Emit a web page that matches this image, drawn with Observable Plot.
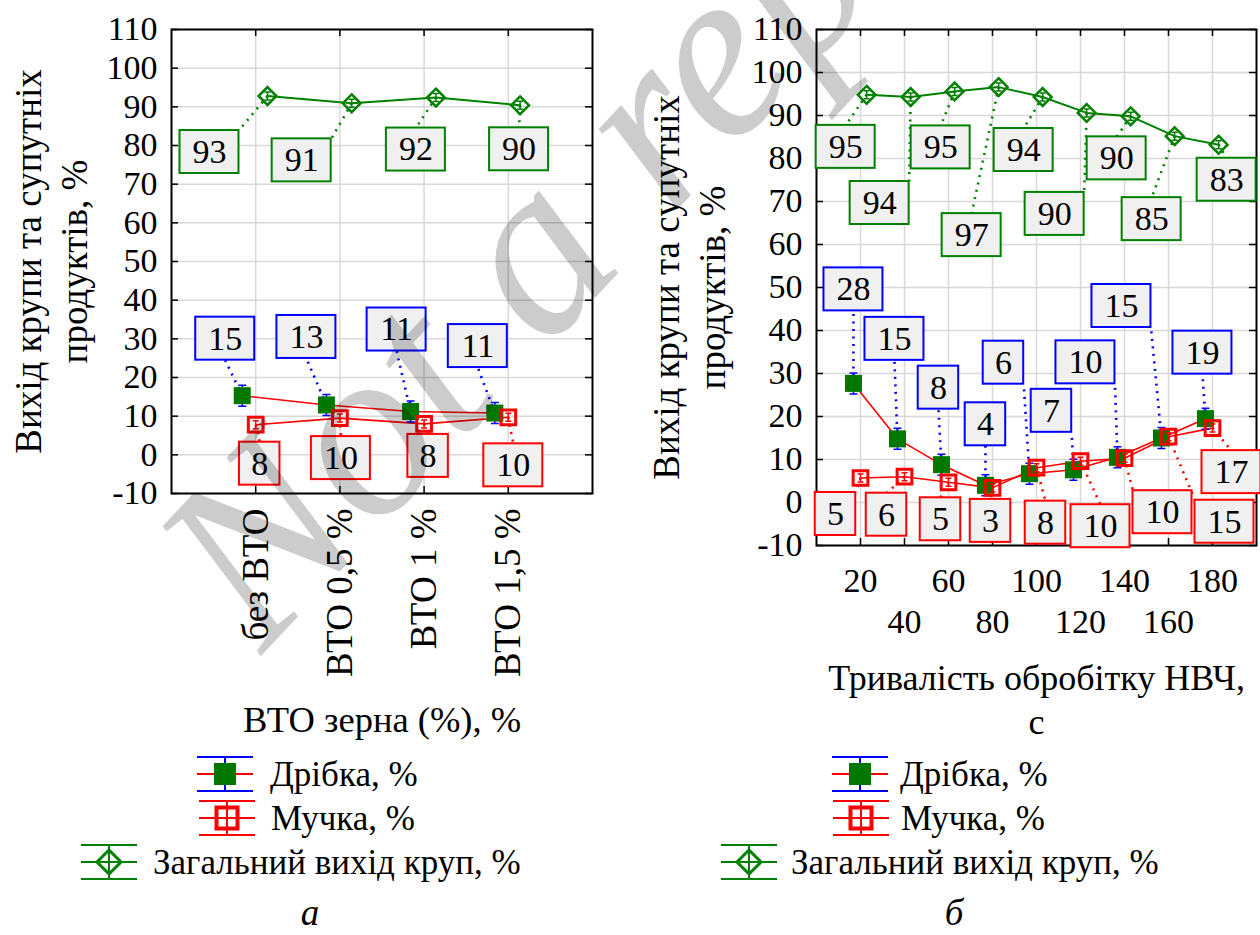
<!DOCTYPE html>
<html>
<head>
<meta charset="utf-8">
<script src="https://cdn.jsdelivr.net/npm/d3@7"></script>
<script src="https://cdn.jsdelivr.net/npm/@observablehq/plot@0.6"></script>
<style>
  html, body { margin: 0; padding: 0; background: #fff; }
  #wrap { position: relative; width: 1260px; height: 935px; overflow: hidden;
          font-family: "Liberation Serif", Tinos, "DejaVu Serif", "Noto Serif", serif; }
  #panelA, #panelB { position: absolute; top: 0; }
  #panelA { left: 0; }
  #panelB { left: 630px; }
  #legend, #wm { position: absolute; left: 0; top: 0; pointer-events: none; }
</style>
</head>
<body>
<div id="wrap">
  <div id="panelA"></div>
  <div id="panelB"></div>
  <svg id="legend" width="1260" height="935"></svg>
  <svg id="wm" width="1260" height="935"></svg>
</div>
<script>
// ---------------- DATA ----------------
// Panel а: ВТО зерна
const catsA = ["без ВТО", "ВТО 0,5 %", "ВТО 1 %", "ВТО 1,5 %"];
const posA = [1, 2, 3, 4];
const dribkaA = [15.3, 12.9, 11.2, 10.8];
const dribkaLabA = ["15", "13", "11", "11"];
const muchkaA = [7.8, 9.5, 8.0, 9.7];
const muchkaLabA = ["8", "10", "8", "10"];
const totalA = [92.8, 90.9, 92.4, 90.4];
const totalLabA = ["93", "91", "92", "90"];

// Panel б: тривалість обробітку НВЧ, с
const timeB = [20, 40, 60, 80, 100, 120, 140, 160, 180];
const timeRow1 = [20, 60, 100, 140, 180];
const timeRow2 = [40, 80, 120, 160];
const dribkaB = [27.7, 14.8, 8.8, 4.0, 6.7, 7.6, 10.5, 15.0, 19.5];
const dribkaLabB = ["28", "15", "8", "4", "6", "7", "10", "15", "19"];
const muchkaB = [5.7, 6.0, 4.7, 3.4, 8.1, 9.6, 10.3, 15.3, 17.3];
const muchkaLabB = ["5", "6", "5", "3", "8", "10", "10", "15", "17"];
const totalB = [94.8, 94.3, 95.6, 96.6, 94.3, 90.6, 89.8, 85.2, 83.2];
const totalLabB = ["95", "94", "95", "97", "94", "90", "90", "85", "83"];

const yTicks = [-10, 0, 10, 20, 30, 40, 50, 60, 70, 80, 90, 100, 110];
const yDomain = [-10, 110];
const seriesNames = ["Дрібка, %", "Мучка, %", "Загальний вихід круп, %"];
const yTitle = "Вихід крупи та супутніх\nпродуктів, %";
const xTitleA = "ВТО зерна (%), %";
const xTitleB = "Тривалість обробітку НВЧ,\nс";
const captions = ["а", "б"];

// ---------------- LAYOUT (label box offsets from their points, px) ----------------
const totDxA = [-58, -50, -20, -1],  totDyA = [56, 57, 52, 44];
const driDxA = [-17, -20, -14, -17], driDyA = [-57, -68, -82, -67];
const muchDxA = [4, 1, 4, 5],       muchDyA = [39, 40, 32, 48];

const totDxB = [-21, -31, -14, -27, -19, -32, -14, -23, 8];
const totDyB = [52, 106, 56, 148, 53, 101, 42, 83, 35];
const driDxB = [0, -3, -3, 0, -26, -22, -32, -40, -3];
const driDyB = [-94, -100, -77, -61, -111, -59, -95, -132, -66];
const muchDxB = [-25, -18, -8, -2, 9, 20, 38, 56, 19];
const muchDyB = [36, 38, 37, 33, 55, 65, 54, 85, 44];

// ---------------- STYLE ----------------
const GREEN = "#008000", DGREEN = "#007800", RED = "#ff0000", BLUE = "#0000ff";
const GRID = "#d8d8d8", BOXFILL = "#f0f0f0";
const FONT = '"Liberation Serif", Tinos, "DejaVu Serif", "Noto Serif", serif';
const FS_NUM = 34, FS_CAT = 37, FS_TITLE = 37, FS_LEG = 35;

function ibar(h, w) {
  return {draw(ctx) {
    ctx.moveTo(0, -h); ctx.lineTo(0, h);
    ctx.moveTo(-w, -h); ctx.lineTo(w, -h);
    ctx.moveTo(-w, h); ctx.lineTo(w, h);
  }};
}

function labelRows(X, Y, xv, off, vals, texts, ldx, ldy) {
  return xv.map((x0, i) => {
    const px = X.apply(x0 + off), py = Y.apply(vals[i]);
    const cx = px + ldx[i], cy = py + ldy[i];
    const w = 18.5 * texts[i].length + 22, h = 43;
    const L = cx - w / 2, R = cx + w / 2, T = cy - h / 2, B = cy + h / 2;
    const ax = px < L ? L : px > R ? R : cx;
    const ay = py < T ? T : py > B ? B : cy;
    return {x1: X.invert(L), x2: X.invert(R), y1: Y.invert(B), y2: Y.invert(T),
            tx: X.invert(cx), ty: Y.invert(cy), text: texts[i],
            px: x0 + off, py: vals[i], ax: X.invert(ax), ay: Y.invert(ay)};
  });
}

function drawPanel(c) {
  const {width, height, mL, mR, mT, mB, xDomain, xv, step} = c;
  const X = Plot.scale({x: {domain: xDomain, range: [mL, width - mR]}});
  const Y = Plot.scale({y: {domain: yDomain, range: [height - mB, mT]}});
  const fw = width - mL - mR, fh = height - mT - mB;
  const offD = -0.16 * step, offT = 0.14 * step;
  const pts = (vals, off) => xv.map((x, i) => ({x: x + off, y: vals[i]}));
  const dP = pts(c.dribka, offD), mP = pts(c.muchka, 0), tP = pts(c.total, offT);
  const dL = labelRows(X, Y, xv, offD, c.dribka, c.dLab, c.dDx, c.dDy);
  const mLb = labelRows(X, Y, xv, 0, c.muchka, c.mLab, c.mDx, c.mDy);
  const tL = labelRows(X, Y, xv, offT, c.total, c.tLab, c.tDx, c.tDy);
  const link = (data, color) => Plot.link(data, {x1: "px", y1: "py", x2: "ax", y2: "ay",
    stroke: color, strokeWidth: 2.6, strokeDasharray: "2 5.5"});
  const box = (data, color) => Plot.rect(data, {x1: "x1", x2: "x2", y1: "y1", y2: "y2",
    fill: BOXFILL, stroke: color, strokeWidth: 2});
  const txt = (data) => Plot.text(data, {x: "tx", y: "ty", text: "text", fontSize: FS_NUM,
    fill: "black", lineAnchor: "middle"});
  const marks = [
    Plot.ruleY(yTicks, {stroke: GRID, strokeWidth: 1.5}),
    Plot.ruleX(c.gridX, {stroke: GRID, strokeWidth: 1.5}),
    Plot.frame({stroke: "black", strokeWidth: 2}),
    Plot.tickY(yTicks, {y: d => d, insetRight: fw - 7, stroke: "black", strokeWidth: 1.5}),
    Plot.tickY(yTicks, {y: d => d, insetLeft: fw - 7, stroke: "black", strokeWidth: 1.5}),
    Plot.tickX(c.gridX, {x: d => d, insetBottom: fh - 7, stroke: "black", strokeWidth: 1.5}),
    Plot.tickX(c.gridX, {x: d => d, insetTop: fh - 7, stroke: "black", strokeWidth: 1.5}),
    Plot.axisY({ticks: yTicks, tickSize: 0, tickPadding: 14, tickFormat: d => String(d), label: null, fontSize: FS_NUM}),
    ...c.xAxes,
    Plot.line(dP, {x: "x", y: "y", stroke: RED, strokeWidth: 1.6}),
    Plot.line(mP, {x: "x", y: "y", stroke: RED, strokeWidth: 1.6}),
    Plot.line(tP, {x: "x", y: "y", stroke: GREEN, strokeWidth: 2}),
    link(tL, GREEN), link(dL, BLUE), link(mLb, RED),
    Plot.dot(dP, {x: "x", y: "y", symbol: ibar(10.5, 4), r: 5, fill: "none", stroke: BLUE, strokeWidth: 1.5}),
    Plot.dot(dP, {x: "x", y: "y", symbol: "square", r: 9.6, fill: DGREEN, stroke: "none"}),
    Plot.dot(mP, {x: "x", y: "y", symbol: "square", r: 8.3, fill: "none", stroke: RED, strokeWidth: 3}),
    Plot.dot(mP, {x: "x", y: "y", symbol: ibar(4, 3), r: 5, fill: "none", stroke: RED, strokeWidth: 1.5}),
    Plot.dot(tP, {x: "x", y: "y", symbol: "diamond2", r: 8, fill: "none", stroke: GREEN, strokeWidth: 2.5}),
    Plot.dot(tP, {x: "x", y: "y", symbol: ibar(4, 3), r: 5, fill: "none", stroke: GREEN, strokeWidth: 1.5}),
    box(tL, GREEN), box(dL, BLUE), box(mLb, RED),
    txt(tL), txt(dL), txt(mLb),
    Plot.text([yTitle], {text: d => d, frameAnchor: "left", rotate: -90, dx: c.yTitleX - mL,
      lineAnchor: "bottom", lineHeight: 1.22, textAnchor: "middle", fontSize: FS_TITLE, fill: "black"}),
    Plot.text([c.xTitle], {text: d => d, frameAnchor: "bottom", dy: c.xTitleDy,
      lineAnchor: "bottom", lineHeight: 1.22, textAnchor: "middle", fontSize: c.xTitleFS, fill: "black"})
  ];
  return Plot.plot({
    width, height, marginLeft: mL, marginRight: mR, marginTop: mT, marginBottom: mB,
    x: {domain: xDomain}, y: {domain: yDomain},
    style: {fontFamily: FONT, fontSize: FS_NUM + "px", background: "transparent", overflow: "visible", color: "black"},
    marks
  });
}

const plotA = drawPanel({
  width: 630, height: 745, mL: 171, mR: 38, mT: 29, mB: 252,
  xDomain: [0, 5], xv: posA, step: 1, gridX: posA,
  dribka: dribkaA, dLab: dribkaLabA, dDx: driDxA, dDy: driDyA,
  muchka: muchkaA, mLab: muchkaLabA, mDx: muchDxA, mDy: muchDyA,
  total: totalA, tLab: totalLabA, tDx: totDxA, tDy: totDyA,
  xAxes: [Plot.axisX({ticks: posA, tickFormat: d => catsA[d - 1], tickRotate: -90,
    tickSize: 0, tickPadding: 15, label: null, fontSize: FS_CAT})],
  yTitleX: 86, xTitle: xTitleA, xTitleDy: 238, xTitleFS: 36.5
});
document.getElementById("panelA").appendChild(plotA);

const plotB = drawPanel({
  width: 630, height: 745, mL: 186, mR: 4, mT: 29, mB: 200,
  xDomain: [0, 200], xv: timeB, step: 20, gridX: timeB,
  dribka: dribkaB, dLab: dribkaLabB, dDx: driDxB, dDy: driDyB,
  muchka: muchkaB, mLab: muchkaLabB, mDx: muchDxB, mDy: muchDyB,
  total: totalB, tLab: totalLabB, tDx: totDxB, tDy: totDyB,
  xAxes: [
    Plot.axisX({ticks: timeRow1, tickSize: 0, tickPadding: 22, label: null, fontSize: FS_NUM}),
    Plot.axisX({ticks: timeRow2, tickSize: 0, tickPadding: 63, label: null, fontSize: FS_NUM})
  ],
  yTitleX: 724 - 630, xTitle: xTitleB, xTitleDy: 188, xTitleFS: 36
});
document.getElementById("panelB").appendChild(plotB);

// ---------------- LEGENDS & CAPTIONS ----------------
const NS = "http://www.w3.org/2000/svg";
const leg = document.getElementById("legend");
function el(parent, tag, attrs, text) {
  const e = document.createElementNS(NS, tag);
  for (const k in attrs) e.setAttribute(k, attrs[k]);
  if (text != null) e.textContent = text;
  parent.appendChild(e);
  return e;
}
function legendSymbol(kind, x0, cy) {
  const g = el(leg, "g", {transform: `translate(${x0},${cy})`});
  const w = 56, col = kind === 0 ? BLUE : kind === 1 ? RED : GREEN;
  const mid = kind === 2 ? GREEN : RED;
  el(g, "line", {x1: 0, x2: w, y1: -17, y2: -17, stroke: col, "stroke-width": 2});
  el(g, "line", {x1: 0, x2: w, y1: 17, y2: 17, stroke: col, "stroke-width": 2});
  el(g, "line", {x1: w / 2, x2: w / 2, y1: -17, y2: 17, stroke: col, "stroke-width": 2});
  el(g, "line", {x1: 0, x2: w, y1: 0, y2: 0, stroke: mid, "stroke-width": 2});
  if (kind === 0) el(g, "rect", {x: w / 2 - 11, y: -11, width: 22, height: 22, fill: DGREEN});
  if (kind === 1) el(g, "rect", {x: w / 2 - 10.5, y: -10.5, width: 21, height: 21, fill: "none", stroke: RED, "stroke-width": 4});
  if (kind === 2) el(g, "path", {d: `M${w/2},-12L${w/2+12},0L${w/2},12L${w/2-12},0Z`, fill: "none", stroke: GREEN, "stroke-width": 3});
}
const legRowsY = [774, 818, 862];
const legendA = {sym: [197, 199, 81], txt: [270, 271, 153]};
const legendB = {sym: [832, 833, 721], txt: [900, 901, 791]};
[legendA, legendB].forEach(L => {
  seriesNames.forEach((name, i) => {
    legendSymbol(i, L.sym[i], legRowsY[i]);
    el(leg, "text", {x: L.txt[i], y: legRowsY[i] + 12, "font-family": FONT, "font-size": FS_LEG, fill: "black"}, name);
  });
});
el(leg, "text", {x: 310, y: 925, "font-family": FONT, "font-size": FS_TITLE, "font-style": "italic", "text-anchor": "middle"}, captions[0]);
el(leg, "text", {x: 954, y: 925, "font-family": FONT, "font-size": FS_TITLE, "font-style": "italic", "text-anchor": "middle"}, captions[1]);

// ---------------- WATERMARK ----------------
const wm = document.getElementById("wm");
el(wm, "text", {x: 0, y: 0, transform: "translate(262,655) rotate(-47)", "font-family": FONT,
  "font-size": 245, "font-style": "italic", fill: "rgba(0,0,0,0.2)"}, "Not a reprint");
</script>
</body>
</html>
